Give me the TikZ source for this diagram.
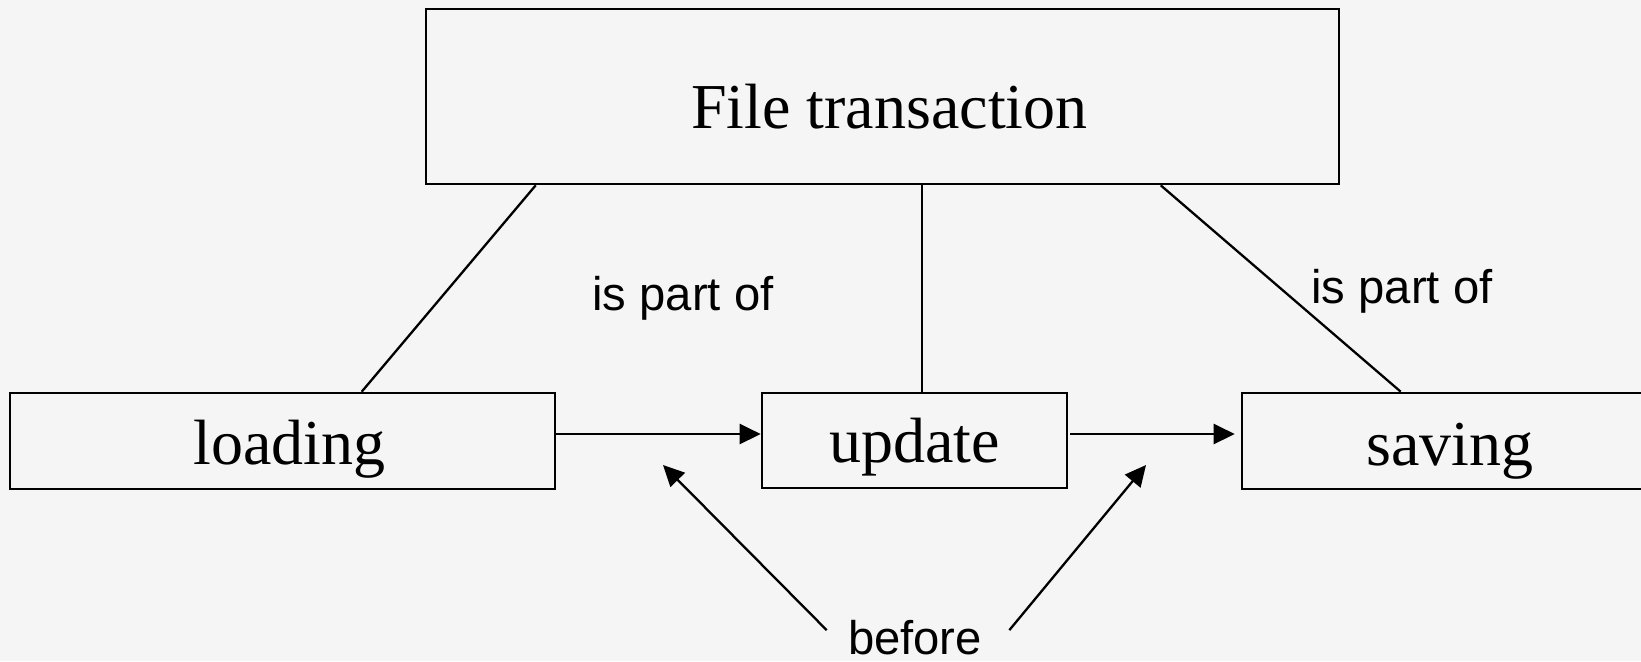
\documentclass[tikz,border=0pt]{standalone}
\usepackage{fontspec}
\setmainfont{Liberation Serif}
\newfontfamily\arialfont{Liberation Sans}
\usetikzlibrary{arrows.meta}
\definecolor{bgcol}{RGB}{245,245,245}
\tikzset{
  box/.style={draw=black, line width=1.3pt, inner sep=0pt, text height=23pt, text depth=0pt,
    font=\fontsize{32}{36}\selectfont},
  rel/.style={font=\arialfont\fontsize{23.6}{28}\selectfont, inner sep=0pt, anchor=base},
  link/.style={draw=black, line width=1.15pt},
  arr/.style={link, -{Triangle[length=10.5pt,width=10pt]}}
}
\begin{document}
\begin{tikzpicture}[x=0.5pt,y=-0.5pt]
\clip (0,0) rectangle (1641,661);
\fill[bgcol] (0,0) rectangle (1641,661);
% boxes
\node[box, minimum width=456.5pt, minimum height=87.5pt, text height=31.5pt] (top) at (882.5,96.5) {\hspace{7pt}File transaction};
\node[box, minimum width=272.5pt, minimum height=48pt] (load) at (282.5,441) {\hspace{7pt}loading};
\node[box, minimum width=152.5pt, minimum height=47.5pt, text height=22pt] (upd) at (914.5,440.5) {update};
\node[box, minimum width=208pt, minimum height=48pt, text height=24pt] (save) at (1450,441) {saving};
% labels
\node[rel] (lp1) at (683,310) {is part of};
\node[rel] (lp2) at (1402,303) {is part of};
\node[rel] (bef) at (915,654) {before};
% part-of links
\draw[link] ([xshift=176.5pt]load.north west) -- ([xshift=55.5pt]top.south west);
\draw[link] ([xshift=3.75pt]upd.north) -- ([xshift=3.75pt]upd.north |- top.south);
\draw[link] ([xshift=80pt]save.north west) -- ([xshift=368pt]top.south west);
% sequence arrows
\draw[arr] ([yshift=3.5pt]load.east) -- ([yshift=3.25pt]upd.west);
\draw[arr, shorten <=1pt, shorten >=3pt] ([yshift=3.25pt]upd.east) -- ([yshift=3.5pt]save.west);
% before arrows
\coordinate (t1) at (663,465);
\coordinate (t2) at (1146,465);
\draw[arr] ([xshift=-10.5pt,yshift=3.5pt]bef.west) -- (t1);
\draw[arr] ([xshift=13.5pt,yshift=3.5pt]bef.east) -- (t2);
\end{tikzpicture}
\end{document}
